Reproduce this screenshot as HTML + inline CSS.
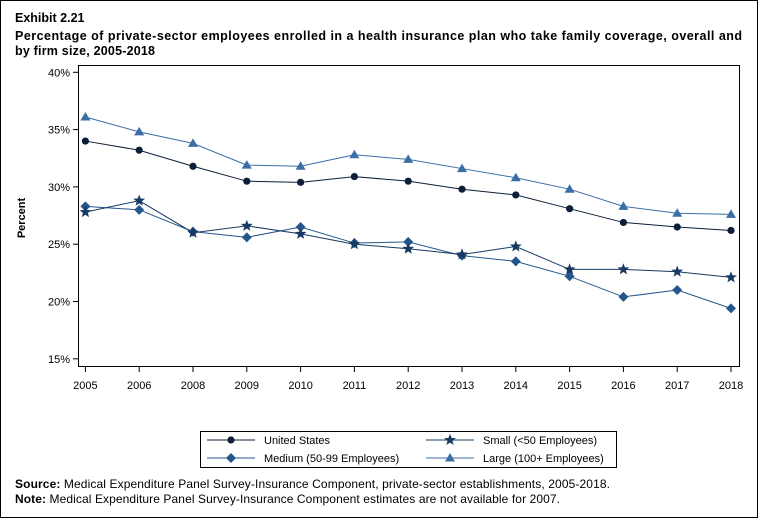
<!DOCTYPE html>
<html><head><meta charset="utf-8"><style>
body{margin:0;background:#fff;}
svg{display:block;font-family:"Liberation Sans",sans-serif;}
</style></head><body>
<svg id="s" width="758" height="518" xmlns="http://www.w3.org/2000/svg">
<rect x="0.5" y="0.5" width="757" height="517" fill="#fff" stroke="#000"/>
<text x="15" y="22" font-size="12.5" font-weight="bold">Exhibit 2.21</text>
<text x="15" y="40" font-size="12.5" font-weight="bold" textLength="727" lengthAdjust="spacing">Percentage of private-sector employees enrolled in a health insurance plan who take family coverage, overall and</text>
<text x="15" y="55" font-size="12.5" font-weight="bold" textLength="140" lengthAdjust="spacing">by firm size, 2005-2018</text>
<rect x="78.5" y="65.5" width="661" height="301" fill="none" stroke="#000"/>
<text transform="translate(25,218) rotate(-90)" text-anchor="middle" font-size="11" font-weight="bold">Percent</text>
<g id="g"></g>
<rect x="200.5" y="431.5" width="416" height="36" fill="none" stroke="#000"/>
<text x="15" y="488" font-size="12" textLength="595" lengthAdjust="spacing"><tspan font-weight="bold">Source:</tspan> Medical Expenditure Panel Survey-Insurance Component, private-sector establishments, 2005-2018.</text>
<text x="15" y="503" font-size="12" textLength="545" lengthAdjust="spacing"><tspan font-weight="bold">Note:</tspan> Medical Expenditure Panel Survey-Insurance Component estimates are not available for 2007.</text>
</svg>
<script>
const g=document.getElementById('g');let h='';
const X=i=>85.4+i*53.8, Y=v=>72.3+(40-v)*11.46;
[40,35,30,25,20,15].forEach(v=>{const y=Y(v);h+=`<line x1="73" x2="78" y1="${y}" y2="${y}" stroke="#000"/><text x="70" y="${y+4}" font-size="11" text-anchor="end">${v}%</text>`;});
const yrs=[2005,2006,2008,2009,2010,2011,2012,2013,2014,2015,2016,2017,2018];
yrs.forEach((yr,i)=>{const x=X(i);h+=`<line x1="${x}" x2="${x}" y1="367" y2="372" stroke="#000"/><text x="${x}" y="389" font-size="11" text-anchor="middle">${yr}</text>`;});
const S=[
{c:'#0d1f38',m:'c',d:[34.0,33.2,31.8,30.5,30.4,30.9,30.5,29.8,29.3,28.1,26.9,26.5,26.2]},
{c:'#3b6ea5',m:'t',d:[36.1,34.8,33.8,31.9,31.8,32.8,32.4,31.6,30.8,29.8,28.3,27.7,27.6]},
{c:'#25568a',m:'d',d:[28.3,28.0,26.1,25.6,26.5,25.1,25.2,24.0,23.5,22.2,20.4,21.0,19.4]},
{c:'#163a62',m:'s',d:[27.8,28.8,26.0,26.6,25.9,25.0,24.6,24.1,24.8,22.8,22.8,22.6,22.1]}];
function mk(m,x,y,c){
 if(m=='c')return `<circle cx="${x}" cy="${y}" r="3.6" fill="${c}"/>`;
 if(m=='t')return `<polygon points="${x},${y-5} ${x-5},${y+3.5} ${x+5},${y+3.5}" fill="${c}"/>`;
 if(m=='d')return `<polygon points="${x},${y-5} ${x+5},${y} ${x},${y+5} ${x-5},${y}" fill="${c}"/>`;
 let p=[];for(let k=0;k<10;k++){const r=k%2?2.6:6.2,a=-Math.PI/2+k*Math.PI/5;p.push((x+r*Math.cos(a)).toFixed(1)+','+(y+r*Math.sin(a)).toFixed(1));}
 return `<polygon points="${p.join(' ')}" fill="${c}"/>`;}
S.forEach(s=>{h+=`<polyline fill="none" stroke="${s.c}" stroke-width="1" points="${s.d.map((v,i)=>X(i)+','+Y(v)).join(' ')}"/>`;s.d.forEach((v,i)=>h+=mk(s.m,X(i),Y(v),s.c));});
const L=[[207,440,'United States',0],[207,458,'Medium (50-99 Employees)',2],[426,440,'Small (&lt;50 Employees)',3],[426,458,'Large (100+ Employees)',1]];
L.forEach(([x,y,t,k])=>{const s=S[k];h+=`<line x1="${x}" x2="${x+48}" y1="${y}" y2="${y}" stroke="${s.c}"/>`+mk(s.m,x+24,y,s.c)+`<text x="${x+57}" y="${y+4}" font-size="11">${t}</text>`;});
g.innerHTML=h;
</script>
</body></html>
